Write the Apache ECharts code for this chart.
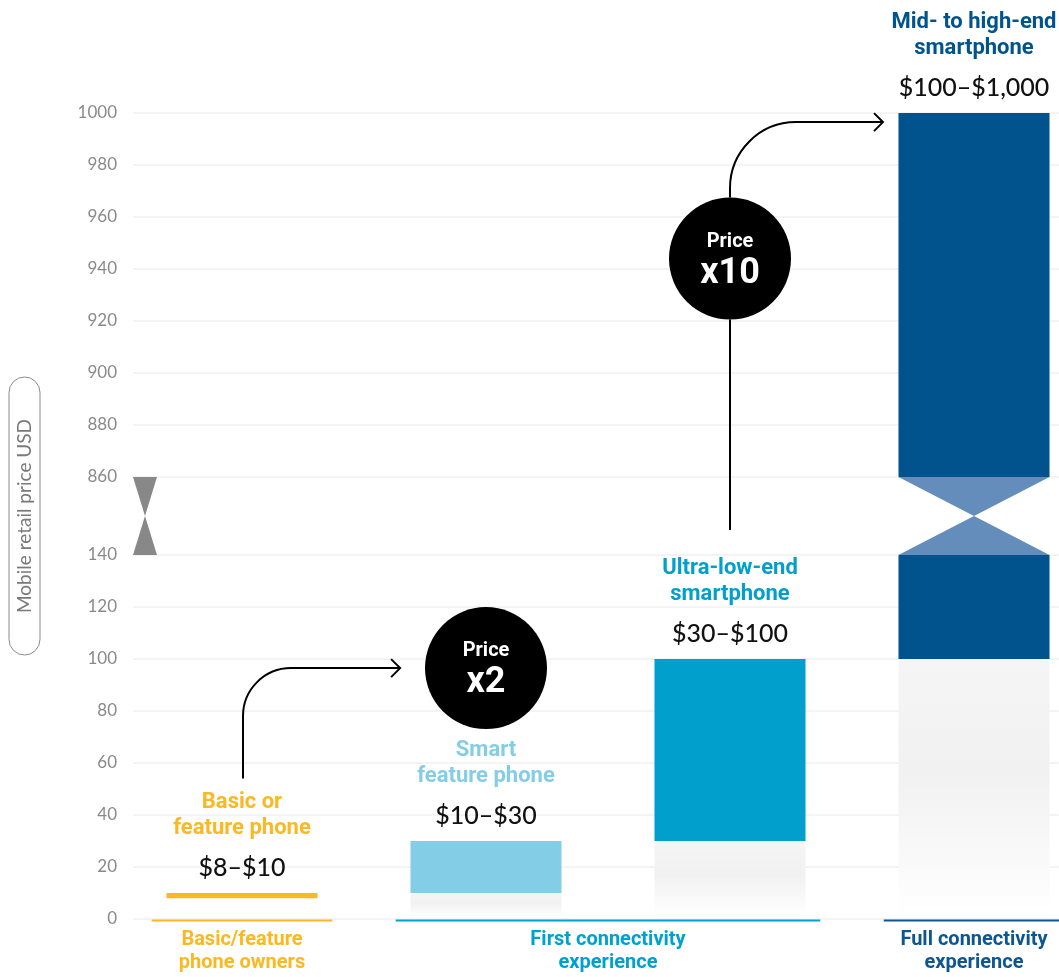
<!DOCTYPE html>
<html><head><meta charset="utf-8">
<script src="https://cdn.jsdelivr.net/npm/echarts@6/dist/echarts.min.js"></script>
<style>html,body{margin:0;padding:0;background:#fff}#c{width:1059px;height:977px}</style>
</head><body><div id="c"></div>
<script>
// ---------------- data ----------------
const categories = ['Basic or\nfeature phone', 'Smart\nfeature phone', 'Ultra-low-end\nsmartphone', 'Mid- to high-end\nsmartphone'];
const priceLow = [8, 10, 30, 100];
const priceHigh = [10, 30, 100, 1000];
const priceLabels = ['$8–$10', '$10–$30', '$30–$100', '$100–$1,000'];
const yTickValues = [0, 20, 40, 60, 80, 100, 120, 140, 860, 880, 900, 920, 940, 960, 980, 1000];
const axisBreak = [140, 860];
const groupNames = ['Basic/feature\nphone owners', 'First connectivity\nexperience', 'Full connectivity\nexperience'];
const groupFirstCat = [0, 1, 3];
const groupLastCat = [0, 2, 3];
const jumpLabels = ['x2', 'x10'];

// ---------------- styles ----------------
const barColors = ['#fbb823', '#84cde7', '#009fcc', '#00538c'];
const headingColors = ['#fbb823', '#84cde7', '#009fcc', '#00538c'];
const groupColors = ['#fbb823', '#00a0d0', '#0d5690'];
const showFade = [false, true, true, true];
const breakColor = '#648dbb';
const HEAD_FONT = "Roboto, sans-serif";
const NUM_FONT = "Lato, 'Open Sans', sans-serif";
const GAP = 30;               // axis units used for the break
const BAR_W = 0.619;          // in category units
const XMIN = -109 / 244, XMAX = XMIN + 926 / 244;

function toAxis(v) { return v <= axisBreak[0] ? v : v - axisBreak[1] + axisBreak[0] + GAP; }
function fromAxis(a) { return a <= axisBreak[0] ? a : a - axisBreak[0] - GAP + axisBreak[1]; }
const Y_MAX = toAxis(yTickValues[yTickValues.length - 1]);

const chart = echarts.init(document.getElementById('c'), null, { renderer: 'canvas' });

function renderGrid(params, api) {
  const y = api.coord([0, api.value(1)])[1];
  const cs = params.coordSys;
  return { type: 'line', shape: { x1: cs.x, y1: y, x2: cs.x + cs.width, y2: y },
    style: { stroke: '#e8e8e8', lineWidth: 1 } };
}

function renderBreak(params, api) {
  const cs = params.coordSys;
  const yA = api.coord([0, api.value(1)])[1];
  const yB = api.coord([0, api.value(2)])[1];
  const ym = (yA + yB) / 2, x = cs.x, w = 24;
  return { type: 'group', children: [
    { type: 'polygon', shape: { points: [[x, yB], [x + w, yB], [x + w / 2, ym]] }, style: { fill: '#888888' } },
    { type: 'polygon', shape: { points: [[x, yA], [x + w, yA], [x + w / 2, ym]] }, style: { fill: '#888888' } }
  ]};
}

function renderBar(params, api) {
  const i = api.value(0), lo = api.value(1), hi = api.value(2);
  const base = api.coord([i, 0]);
  const cx = base[0], y0 = base[1];
  const w = api.size([BAR_W, 0])[0];
  const x = cx - w / 2;
  const yLo = api.coord([i, toAxis(lo)])[1];
  const yHi = api.coord([i, toAxis(hi)])[1];
  const ch = [];
  if (showFade[i]) {
    ch.push({ type: 'rect', shape: { x, y: yLo, width: w, height: y0 - 3 - yLo },
      style: { fill: new echarts.graphic.LinearGradient(0, 0, 0, 1, [
        { offset: 0, color: '#f5f5f5' }, { offset: 0.45, color: '#f1f1f1' }, { offset: 1, color: '#ffffff' }]) } });
  }
  if (hi > axisBreak[1]) {
    const yB0 = api.coord([i, toAxis(axisBreak[0])])[1];
    const yB1 = api.coord([i, toAxis(axisBreak[1])])[1];
    const ym = (yB0 + yB1) / 2;
    ch.push({ type: 'rect', shape: { x, y: yB0, width: w, height: yLo - yB0 }, style: { fill: barColors[i] } });
    ch.push({ type: 'rect', shape: { x, y: yHi, width: w, height: yB1 - yHi }, style: { fill: barColors[i] } });
    ch.push({ type: 'polygon', shape: { points: [[x, yB1], [x + w, yB1], [cx, ym]] }, style: { fill: breakColor } });
    ch.push({ type: 'polygon', shape: { points: [[x, yB0], [x + w, yB0], [cx, ym]] }, style: { fill: breakColor } });
  } else {
    ch.push({ type: 'rect', shape: { x, y: yHi, width: w, height: yLo - yHi }, style: { fill: barColors[i] } });
  }
  ch.push({ type: 'text', x: cx, y: yHi - 25, style: { text: priceLabels[i], fill: '#111', font: '500 25px ' + NUM_FONT, align: 'center', verticalAlign: 'middle' } });
  ch.push({ type: 'text', x: cx, y: yHi - 78, style: { text: categories[i], fill: headingColors[i], font: 'bold 22px ' + HEAD_FONT, align: 'center', verticalAlign: 'middle', lineHeight: 26 } });
  return { type: 'group', children: ch };
}

function renderGroup(params, api) {
  const f = api.value(0), l = api.value(1), k = api.value(2);
  const y0 = api.coord([0, 0])[1];
  const x1 = api.coord([f - 0.37, 0])[0];
  const x2 = api.coord([l + 0.37, 0])[0];
  return { type: 'group', children: [
    { type: 'line', shape: { x1, y1: y0 + 1.5, x2, y2: y0 + 1.5 }, style: { stroke: groupColors[k], lineWidth: 2 } },
    { type: 'text', x: (x1 + x2) / 2, y: y0 + 9, style: { text: groupNames[k], fill: groupColors[k], font: 'bold 20px ' + HEAD_FONT, align: 'center', verticalAlign: 'top', lineHeight: 23 } }
  ]};
}

const option = {
  animation: false,
  backgroundColor: '#ffffff',
  grid: { left: 133, right: 0, top: 113, bottom: 58 },
  xAxis: { type: 'value', min: XMIN, max: XMAX, show: false },
  yAxis: {
    type: 'value', min: 0, max: Y_MAX, interval: 10,
    axisLine: { show: false }, axisTick: { show: false }, splitLine: { show: false },
    axisLabel: {
      margin: 16, color: '#8a8a8a', fontSize: 17, fontFamily: NUM_FONT,
      formatter: function (a) { const v = Math.round(fromAxis(a)); return yTickValues.indexOf(v) >= 0 && (a <= axisBreak[0] || a >= axisBreak[0] + GAP) ? String(v) : ''; }
    },
    name: 'Mobile retail price USD', nameLocation: 'middle', nameRotate: 90, nameGap: 93,
    nameTextStyle: { color: '#7a7a7a', fontSize: 19, fontFamily: NUM_FONT, borderColor: '#8a8a8a', borderWidth: 1, borderRadius: 16, padding: [6, 42, 6, 42] }
  },
  series: [
    { type: 'custom', name: 'grid', z: 1, silent: true, clip: false, renderItem: renderGrid,
      data: yTickValues.map(v => [0, toAxis(v)]), encode: { x: 0, y: 1 } },
    { type: 'custom', name: 'break', z: 2, silent: true, clip: false, renderItem: renderBreak,
      data: [[0, toAxis(axisBreak[0]), toAxis(axisBreak[1])]], encode: { x: 0, y: [1, 2] } },
    { type: 'custom', name: 'bars', z: 3, clip: false, renderItem: renderBar,
      data: categories.map((c, i) => [i, priceLow[i], priceHigh[i]]), encode: { x: 0, y: [1, 2] } },
    { type: 'custom', name: 'groups', z: 4, silent: true, clip: false, renderItem: renderGroup,
      data: groupNames.map((n, k) => [groupFirstCat[k], groupLastCat[k], k]), encode: { x: [0, 1] } }
  ]
};
chart.setOption(option);

// ---------------- annotations (price multipliers) ----------------
function px(c, a) { return chart.convertToPixel({ gridIndex: 0 }, [c, a]); }
const R = 61, K = 0.4477;
const c1 = px(1, toAxis(96.5));
const c2 = px(2, toAxis(944));
const a1s = px(0, toAxis(54));
const a1tip = px(0.648, 0)[0];
const a2tip = px(2.627, 0)[0];
const a2y = px(0, toAxis(996.5))[1];
const tailEnd = px(2, 149.6)[1];

const LS = { stroke: '#000', lineWidth: 2, fill: null };
function curvedArrow(x0, ys, yL, r, tip) {
  return [
    { type: 'line', shape: { x1: x0, y1: ys, x2: x0, y2: yL + r }, style: LS },
    { type: 'bezierCurve', shape: { x1: x0, y1: yL + r, cpx1: x0, cpy1: yL + r * K, cpx2: x0 + r * K, cpy2: yL, x2: x0 + r, y2: yL }, style: LS },
    { type: 'line', shape: { x1: x0 + r, y1: yL, x2: tip, y2: yL }, style: LS },
    { type: 'polyline', shape: { points: [[tip - 9, yL - 9], [tip, yL], [tip - 9, yL + 9]] }, style: LS }
  ];
}
function bubble(c, label) {
  return [
    { type: 'circle', shape: { cx: c[0], cy: c[1], r: R }, style: { fill: '#000' } },
    { type: 'text', x: c[0], y: c[1] - 17, style: { text: 'Price', fill: '#fff', font: 'bold 20px Roboto, sans-serif', align: 'center', verticalAlign: 'middle' } },
    { type: 'text', x: c[0], y: c[1] + 15, style: { text: label, fill: '#fff', font: 'bold 36px Roboto, sans-serif', align: 'center', verticalAlign: 'middle' } }
  ];
}
const g = [];
g.push(...curvedArrow(a1s[0] + 1, a1s[1], c1[1], 48, a1tip));
g.push({ type: 'line', shape: { x1: c2[0], y1: c2[1] + R, x2: c2[0], y2: tailEnd }, style: LS });
g.push(...curvedArrow(c2[0], c2[1] - R, a2y, 66, a2tip));
g.push(...bubble(c1, jumpLabels[0]));
g.push(...bubble(c2, jumpLabels[1]));
chart.setOption({ graphic: { elements: g.map(e => Object.assign({ z: 100 }, e)) } });
</script>
</body></html>
